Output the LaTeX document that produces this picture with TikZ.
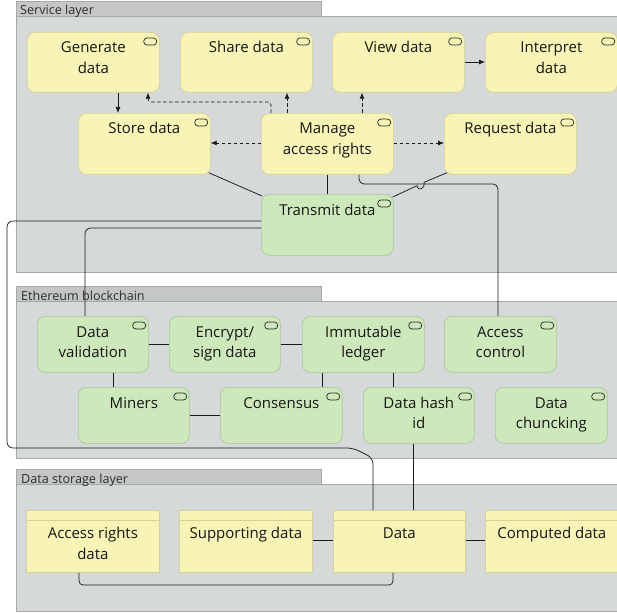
\documentclass[tikz,border=0pt]{standalone}
\usepackage{fontspec}
\setmainfont{Open Sans}
\usetikzlibrary{arrows.meta,calc}

\definecolor{yfill}{HTML}{F7F4B5}
\definecolor{ydraw}{HTML}{D6D296}
\definecolor{gfill}{HTML}{CDE8BA}
\definecolor{gdraw}{HTML}{A8C898}
\definecolor{grpfill}{HTML}{D5D9D9}
\definecolor{grpdraw}{HTML}{A4A8A8}
\definecolor{tabfill}{HTML}{C5C7C7}
\definecolor{txt}{HTML}{161616}
\definecolor{linec}{HTML}{1A1A1A}

% box: style, x, y, width, height, name
\newcommand\mkbox[6]{\node[#1, minimum width=#4pt, minimum height=#5pt] (#6) at (#2,#3) {};}
% service icon in the upper right corner
\newcommand\svcicon[1]{\draw[icon] ([xshift=-16pt,yshift=-6pt]#1.north east) rectangle ++(13,7);}
% one or two text lines under the top edge
\newcommand\onel[2]{\node[lbl] (#1-t1) at ([yshift=-21pt]#1.north) {#2};}
\newcommand\twol[3]{\node[lbl] (#1-t1) at ([yshift=-21pt]#1.north) {#2};
  \node[lbl] (#1-t2) at ([yshift=-41.5pt]#1.north) {#3};}
\newcommand\objonel[2]{\node[lbl] (#1-t1) at ([yshift=-28pt]#1.north) {#2};}
\newcommand\objtwol[3]{\node[lbl] (#1-t1) at ([yshift=-28pt]#1.north) {#2};
  \node[lbl] (#1-t2) at ([yshift=-49pt]#1.north) {#3};}
\newcommand\objhead[1]{\draw[draw=ydraw, line width=0.7pt] ([yshift=-10pt]#1.north west) -- ([yshift=-10pt]#1.north east);}

\begin{document}
\begin{tikzpicture}[x=1pt,y=-1pt,
  grp/.style={fill=grpfill, draw=grpdraw, line width=0.6pt},
  tabbox/.style={fill=tabfill, draw=grpdraw, line width=0.6pt},
  grplbl/.style={font=\fontsize{12.6}{15}\selectfont, text=txt!90, anchor=base west, inner sep=0pt},
  svcY/.style={draw=ydraw, fill=yfill, rounded corners=8pt, line width=0.7pt, anchor=north west, inner sep=0pt},
  svcG/.style={draw=gdraw, fill=gfill, rounded corners=8pt, line width=0.7pt, anchor=north west, inner sep=0pt},
  objbox/.style={draw=ydraw, fill=yfill, line width=0.7pt, anchor=north west, inner sep=0pt},
  lbl/.style={font=\fontsize{15}{18}\selectfont, text=txt, anchor=base, inner sep=0pt},
  icon/.style={draw=black!85, line width=0.7pt, rounded corners=3.3pt},
  conn/.style={draw=linec, line width=0.75pt},
  arr/.style={conn, -{Latex[length=6pt,width=5pt]}},
  dsh/.style={arr, dash pattern=on 3.5pt off 2.5pt}]

\useasboundingbox (0,0) rectangle (617,612);
\fill[white] (0,0) rectangle (617,612);

% ---- layers ----
\draw[grp] (16,16) rectangle (620,272);
\draw[tabbox] (16,1) rectangle (321,16);
\node[grplbl] (lay1) at (20,15) {Service layer};

\draw[grp] (16,301) rectangle (620,458);
\draw[tabbox] (16,286) rectangle (321,301);
\node[grplbl] (lay2) at (21,300) {Ethereum blockchain};

\draw[grp] (16,484) rectangle (620,611);
\draw[tabbox] (16,469) rectangle (321,484);
\node[grplbl] (lay3) at (21,483.5) {Data storage layer};

% ---- service layer ----
\mkbox{svcY}{27}{32}{132}{60}{gen}
\mkbox{svcY}{180}{32}{132}{60}{shr}
\mkbox{svcY}{332}{32}{132}{60}{vw}
\mkbox{svcY}{485}{32}{132}{60}{intp}
\mkbox{svcY}{78}{113}{132}{61}{sto}
\mkbox{svcY}{261}{113}{132}{61}{mar}
\mkbox{svcY}{444}{113}{132}{61}{req}
\mkbox{svcG}{261}{194}{132}{61}{tx}
\foreach \n in {gen,shr,vw,intp,sto,mar,req,tx} {\svcicon{\n}}
\twol{gen}{Generate}{data}
\onel{shr}{Share data}
\onel{vw}{View data}
\twol{intp}{Interpret}{data}
\onel{sto}{Store data}
\twol{mar}{Manage}{access rights}
\onel{req}{Request data}
\onel{tx}{Transmit data}

% ---- ethereum blockchain ----
\mkbox{svcG}{37}{316}{111}{56}{dv}
\mkbox{svcG}{169}{316}{111}{56}{enc}
\mkbox{svcG}{302}{316}{122}{56}{imm}
\mkbox{svcG}{444}{316}{112}{56}{ac}
\mkbox{svcG}{78}{387}{111}{56}{mi}
\mkbox{svcG}{220}{387}{122}{56}{con}
\mkbox{svcG}{363}{387}{111}{56}{dh}
\mkbox{svcG}{495}{387}{112}{56}{dc}
\foreach \n in {dv,enc,imm,ac,mi,con,dh,dc} {\svcicon{\n}}
\twol{dv}{Data}{validation}
\twol{enc}{Encrypt/}{sign data}
\twol{imm}{Immutable}{ledger}
\twol{ac}{Access}{control}
\onel{mi}{Miners}
\onel{con}{Consensus}
\twol{dh}{Data hash}{id}
\twol{dc}{Data}{chuncking}

% ---- data storage layer ----
\mkbox{objbox}{26}{510}{133}{62}{ard}
\mkbox{objbox}{179}{510}{133}{62}{sup}
\mkbox{objbox}{333}{510}{132}{62}{dat}
\mkbox{objbox}{485}{510}{133}{62}{comp}
\foreach \n in {ard,sup,dat,comp} {\objhead{\n}}
\objtwol{ard}{Access rights}{data}
\objonel{sup}{Supporting data}
\objonel{dat}{Data}
\objonel{comp}{Computed data}

% ---- connectors: service layer ----
\draw[arr] (118,0 |- gen.south) -- (118,0 |- sto.north);
\draw[arr] (vw.east |- 0,62) -- (intp.west |- 0,62);
\draw[dsh, rounded corners=3pt] (271,0 |- mar.north) -- (271,102) -- (148,102) -- (148,0 |- gen.south);
\draw[dsh] (287,0 |- mar.north) -- (287,0 |- shr.south);
\draw[dsh] (362,0 |- mar.north) -- (362,0 |- vw.south);
\draw[dsh] (mar.west |- 0,143) -- (sto.east |- 0,143);
\draw[dsh] (mar.east |- 0,143) -- (req.west |- 0,143);
\draw[conn] ([xshift=-2pt,yshift=2pt]sto.south east) -- ([xshift=1pt,yshift=-2pt]tx.north west);
\draw[conn] (327,0 |- mar.south) -- (327,0 |- tx.north);
\draw[conn, rounded corners=5pt] (359,0 |- mar.south) -- (359,184) -- (498,184) -- (498,0 |- ac.north);
% request -> transmit, hopping over the line above
\draw[conn] ([xshift=3pt,yshift=2pt]req.south west) -- (424.2,182.3)
  .. controls (425.5,188.5) and (418.3,191.9) .. (417.0,185.7)
  -- ([xshift=-1pt,yshift=-3pt]tx.north east);

% ---- connectors: into the blockchain and storage ----
\draw[conn, rounded corners=6pt] (tx.west |- 0,228) -- (85,228) -- (85,0 |- dv.north);
\draw[conn, rounded corners=6pt] (tx.west |- 0,221) -- (7,221) -- (7,448) -- (353,448) -- (373,458) -- (373,0 |- dat.north);

% ---- connectors: blockchain ----
\draw[conn] (dv.east |- 0,344) -- (enc.west |- 0,344);
\draw[conn] (enc.east |- 0,344) -- (imm.west |- 0,344);
\draw[conn] (113,0 |- dv.south) -- (113,0 |- mi.north);
\draw[conn] (mi.east |- 0,415) -- (con.west |- 0,415);
\draw[conn] (322,0 |- imm.south) -- (322,0 |- con.north);
\draw[conn] (393,0 |- imm.south) -- (393,0 |- dh.north);
\draw[conn] (413,0 |- dh.south) -- (413,0 |- dat.north);

% ---- connectors: storage ----
\draw[conn] (sup.east |- 0,540) -- (dat.west |- 0,540);
\draw[conn] (dat.east |- 0,540) -- (comp.west |- 0,540);
\draw[conn, rounded corners=4pt] (79,0 |- ard.south) -- (79,585) -- (393,585) -- (393,0 |- dat.south);
\end{tikzpicture}
\end{document}
